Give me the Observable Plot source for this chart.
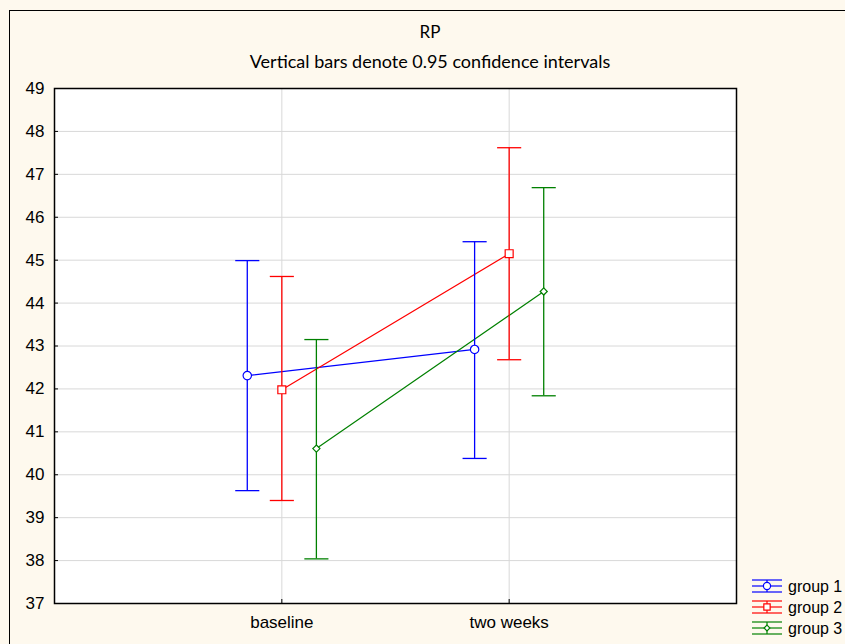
<!DOCTYPE html>
<html>
<head>
<meta charset="utf-8">
<script src="https://cdn.jsdelivr.net/npm/d3@7"></script>
<script src="https://cdn.jsdelivr.net/npm/@observablehq/plot@0.6"></script>
<style>
  html, body { margin: 0; padding: 0; background: #fef9ee; }
  #wrap { position: relative; width: 845px; height: 644px; overflow: hidden; background: #fef9ee; }
  #border { position: absolute; left: 9px; top: 10px; width: 900px; height: 700px; border: 1.5px solid #000; box-sizing: border-box; }
  #title { position: absolute; left: 0; width: 860px; top: 21px; text-align: center; font-family: Lato, "Open Sans", sans-serif; font-size: 17px; color: #000; }
  #subtitle { position: absolute; left: 0; width: 860px; top: 50px; text-align: center; font-family: Lato, "Open Sans", sans-serif; font-size: 18px; color: #000; }
  #chart { position: absolute; left: 0; top: 0; }
  #legend { position: absolute; left: 748px; top: 574px; }
</style>
</head>
<body>
<div id="wrap">
  <div id="border"></div>
  <div id="title">RP</div>
  <div id="subtitle">Vertical bars denote 0.95 confidence intervals</div>
  <div id="chart"></div>
  <svg id="legend" width="97" height="70"></svg>
</div>
<script>
const categories = ["baseline", "two weeks"];
const groups = ["group 1", "group 2", "group 3"];
const colors = ["#0000ff", "#ff0000", "#008000"];
const symbols = ["circle", "square", "diamond2"];
const yTicks = [37, 38, 39, 40, 41, 42, 43, 44, 45, 46, 47, 48, 49];

const group1Mean = [42.31, 42.92];
const group1Low  = [39.63, 40.38];
const group1High = [44.99, 45.43];
const group2Mean = [41.98, 45.15];
const group2Low  = [39.40, 42.68];
const group2High = [44.62, 47.62];
const group3Mean = [40.61, 44.27];
const group3Low  = [38.04, 41.84];
const group3High = [43.15, 46.69];

const means = [group1Mean, group2Mean, group3Mean];
const lows = [group1Low, group2Low, group3Low];
const highs = [group1High, group2High, group3High];

const dodge = 0.152;
const capHalf = 0.053;
const rSize = {"group 1": 4.2, "group 2": 4.5, "group 3": 3.2};

const rows = [];
groups.forEach((g, gi) => {
  categories.forEach((c, ci) => {
    rows.push({group: g, category: c, x: ci + 1 + (gi - 1) * dodge,
      mean: means[gi][ci], lo: lows[gi][ci], hi: highs[gi][ci]});
  });
});
const caps = rows.flatMap(d => [{...d, y: d.lo}, {...d, y: d.hi}]);

const chart = Plot.plot({
  width: 845,
  height: 644,
  marginLeft: 54,
  marginRight: 109,
  marginTop: 88,
  marginBottom: 41,
  style: {background: "transparent", fontFamily: "'Liberation Sans', Arial, sans-serif", fontSize: "17px", color: "#000"},
  x: {domain: [0, 3], label: null},
  y: {domain: [37, 49], label: null},
  color: {domain: groups, range: colors},
  symbol: {domain: groups, range: symbols},
  r: {type: "identity"},
  marks: [
    Plot.frame({fill: "white", stroke: "none"}),
    Plot.gridY(yTicks, {stroke: "#d8d8d8", strokeOpacity: 1}),
    Plot.gridX([1, 2], {stroke: "#d8d8d8", strokeOpacity: 1}),
    Plot.axisY(yTicks, {tickSize: 0, tickPadding: 10, fontSize: 17}),
    Plot.axisY(yTicks, {tickSize: -4, text: null}),
    Plot.axisX([1, 2], {tickSize: 0, tickPadding: 12, fontSize: 17, tickFormat: d => categories[d - 1]}),
    Plot.axisX([1, 2], {tickSize: -4, text: null}),
    Plot.line(rows, {x: "x", y: "mean", z: "group", stroke: "group", strokeWidth: 1.2}),
    Plot.ruleX(rows, {x: "x", y1: "lo", y2: "hi", stroke: "group", strokeWidth: 1.3}),
    Plot.link(caps, {x1: d => d.x - capHalf, x2: d => d.x + capHalf, y1: "y", y2: "y", stroke: "group", strokeWidth: 1.3}),
    Plot.dot(rows, {x: "x", y: "mean", symbol: "group", stroke: "group", fill: "white", r: d => rSize[d.group], strokeWidth: 1.2}),
    Plot.frame({stroke: "#000", strokeWidth: 1.5})
  ]
});
document.getElementById("chart").appendChild(chart);

// legend
const leg = d3.select("#legend");
const symMap = {circle: d3.symbolCircle, square: d3.symbolSquare, diamond2: d3.symbolDiamond2};
groups.forEach((g, i) => {
  const cy = 12 + i * 21;
  const gg = leg.append("g").attr("transform", `translate(0,${cy})`);
  const col = colors[i];
  [-6, 0, 6].forEach(dy => {
    gg.append("line").attr("x1", 4).attr("x2", 34).attr("y1", dy).attr("y2", dy).attr("stroke", col).attr("stroke-width", 1.2);
  });
  gg.append("line").attr("x1", 19).attr("x2", 19).attr("y1", -6).attr("y2", 6).attr("stroke", col).attr("stroke-width", 1.2);
  gg.append("path").attr("transform", "translate(19,0)")
    .attr("d", d3.symbol(symMap[symbols[i]], i === 2 ? 22 : 40)())
    .attr("fill", "white").attr("stroke", col).attr("stroke-width", 1.2);
  gg.append("text").attr("x", 40).attr("y", 0).attr("dy", "0.35em")
    .attr("font-family", "'Liberation Sans', Arial, sans-serif").attr("font-size", 16).text(g);
});
</script>
</body>
</html>
